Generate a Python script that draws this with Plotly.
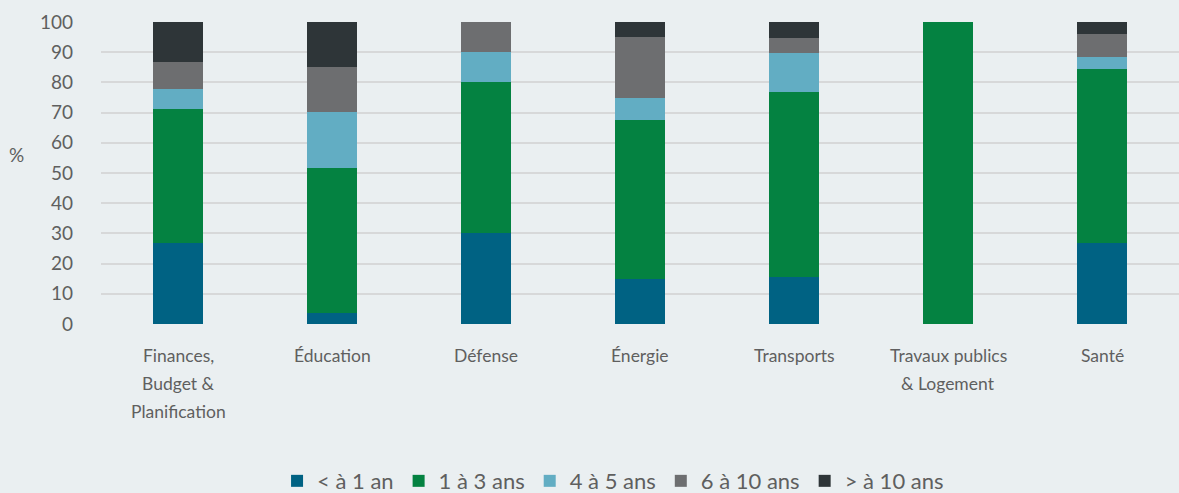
import plotly.graph_objects as go

categories = [
    "Finances, Budget & Planification",
    "Éducation",
    "Défense",
    "Énergie",
    "Transports",
    "Travaux publics & Logement",
    "Santé",
]

# Category labels as they are broken onto lines under the axis
category_lines = [
    ["Finances,", "Budget &", "Planification"],
    ["Éducation"],
    ["Défense"],
    ["Énergie"],
    ["Transports"],
    ["Travaux publics", "& Logement"],
    ["Santé"],
]

series_names = ["< à 1 an", "1 à 3 ans", "4 à 5 ans", "6 à 10 ans", "> à 10 ans"]

lt_1 = [26.7, 3.7, 30.0, 15.0, 15.4, 0.0, 26.9]
y1_3 = [44.4, 48.1, 50.0, 52.5, 61.5, 100.0, 57.7]
y4_5 = [6.7, 18.5, 10.0, 7.5, 12.8, 0.0, 3.8]
y6_10 = [8.9, 14.8, 10.0, 20.0, 5.1, 0.0, 7.7]
gt_10 = [13.3, 14.8, 0.0, 5.0, 5.1, 0.0, 3.8]

colors = ["#006283", "#048241", "#62adc3", "#6d6e70", "#2e3538"]

y_ticks = [0, 10, 20, 30, 40, 50, 60, 70, 80, 90, 100]

bg = "#eaeff1"
font_family = "Lato, 'Open Sans', sans-serif"
text_color = "#5f5f5f"

fig = go.Figure()
for name, vals, col in zip(series_names, [lt_1, y1_3, y4_5, y6_10, gt_10], colors):
    fig.add_trace(go.Bar(
        x=categories, y=vals, name=name,
        marker=dict(color=col, line=dict(width=0)),
        width=0.32,
    ))

# Category labels, one annotation per line with a 28 px line pitch
annotations = []
for cat, lines in zip(categories, category_lines):
    for i, line in enumerate(lines):
        annotations.append(dict(
            text=line, x=cat, xref="x", y=0, yref="paper",
            xanchor="center", yanchor="middle", showarrow=False,
            yshift=-31 - 28 * i,
            font=dict(size=17.5, color=text_color),
        ))

annotations.append(dict(
    text="%", xref="paper", yref="paper", x=-0.078, y=0.56,
    xanchor="center", yanchor="middle", showarrow=False,
    font=dict(size=19, color=text_color),
))

fig.update_layout(
    barmode="stack",
    width=1179, height=493,
    paper_bgcolor=bg, plot_bgcolor=bg,
    margin=dict(l=101, r=0, t=22, b=169, autoexpand=False),
    font=dict(family=font_family, size=19, color=text_color),
    showlegend=True,
    legend=dict(
        orientation="h", x=0.475, xanchor="center", y=-0.52, yanchor="middle",
        font=dict(size=22, color=text_color),
        traceorder="normal", itemwidth=30,
        bgcolor="rgba(0,0,0,0)",
    ),
    xaxis=dict(
        showgrid=False, zeroline=False, showline=False, automargin=False,
        ticks="", showticklabels=False,
    ),
    yaxis=dict(
        range=[0, 100], tickvals=y_ticks, automargin=False,
        showgrid=True, gridcolor="#d7d8d9", gridwidth=2,
        zeroline=False, showline=False,
        ticks="", ticklabelstandoff=27,
        tickfont=dict(size=19, color=text_color),
    ),
    annotations=annotations,
)

fig.write_html("out.html")
